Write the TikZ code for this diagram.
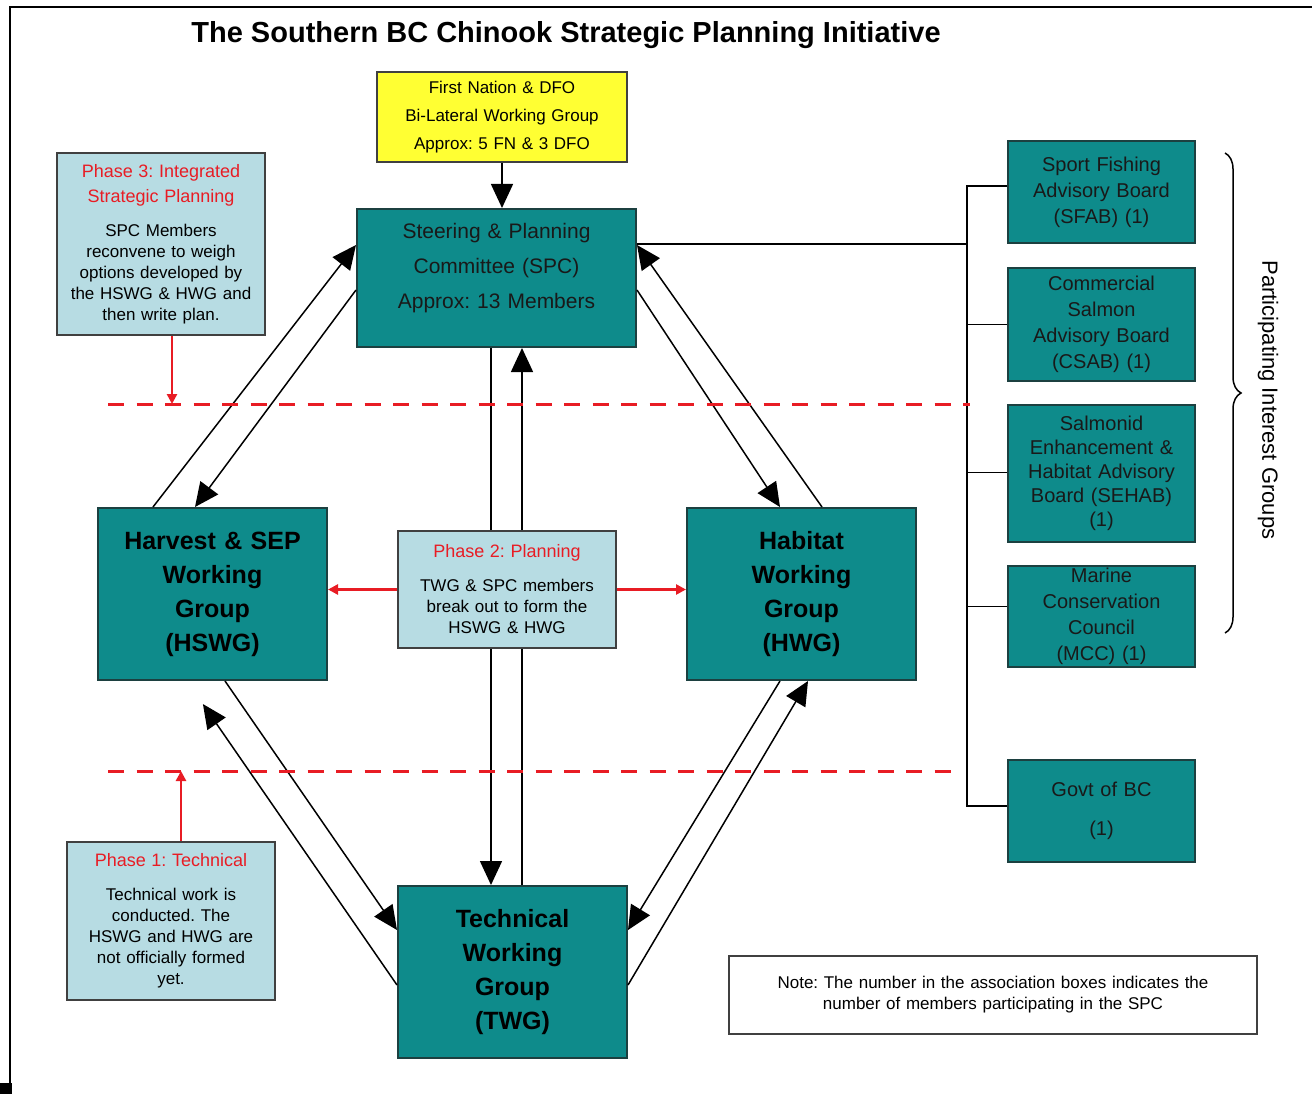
\documentclass[tikz,border=0pt]{standalone}
\usepackage{fontspec}
\setmainfont{Liberation Sans}
\usetikzlibrary{arrows.meta,decorations.pathreplacing}
\setlength{\parindent}{0pt}
\frenchspacing
\definecolor{groupteal}{RGB}{14,139,139}
\definecolor{groupedge}{RGB}{28,64,64}
\definecolor{phaseblue}{RGB}{183,220,227}
\definecolor{phasered}{RGB}{232,28,36}
\definecolor{bilatyellow}{RGB}{255,255,51}
\newcommand{\phasehead}[1]{{\color{phasered}\fontsize{18}{25}\selectfont #1\par}\vspace{13pt}}
\tikzset{
    group/.style={draw=groupedge,line width=2pt,fill=groupteal,align=center,inner sep=0pt,text=black!90},
    workgroup/.style={group,minimum width=229pt,minimum height=172pt,text width=220pt,text=black,font=\bfseries\fontsize{25}{34}\selectfont},
    member/.style={group,minimum width=187pt,text width=180pt,font=\fontsize{20}{26}\selectfont},
    phasebox/.style={draw=black!75,line width=2pt,fill=phaseblue,align=center,inner sep=0pt,font=\fontsize{17}{21}\selectfont},
    flow/.style={-{Triangle[length=24pt,width=22pt]},line width=1.5pt},
    phaseflow/.style={-{Triangle[length=10pt,width=10pt]},draw=phasered,line width=2.5pt},
    phaseline/.style={draw=phasered,line width=3pt,dash pattern=on 16pt off 12.5pt}
}
\begin{document}
\begin{tikzpicture}[x=1pt,y=-1pt]
    \useasboundingbox (0,0) rectangle (1312,1094);
    \draw[line width=2.5pt] (1312,7) -- (10,7) -- (10,1094);
    \fill (0,1083) rectangle (12,1094);
    \node[font=\bfseries\fontsize{29}{34}\selectfont] (title) at (566,35) {The Southern BC Chinook Strategic Planning Initiative};

    \node[draw=black!75,line width=2pt,fill=bilatyellow,minimum width=250pt,minimum height=90pt,text width=240pt,align=center,inner sep=0pt,font=\fontsize{17}{28}\selectfont] (fndfo) at (502,117) {First Nation \& DFO\\Bi-Lateral Working Group\\Approx: 5 FN \& 3 DFO};
    \node[group,minimum width=279pt,minimum height=138pt,text width=270pt,font=\fontsize{21}{35}\selectfont] (spc) at (496.5,278) {Steering \& Planning\\Committee (SPC)\\Approx: 13 Members\par\vspace{20pt}};
    \node[workgroup] (hswg) at (212.5,594) {Harvest \& SEP\\Working\\Group\\(HSWG)};
    \node[workgroup] (hwg) at (801.5,594) {Habitat\\Working\\Group\\(HWG)};
    \node[workgroup] (twg) at (512.5,972) {Technical\\Working\\Group\\(TWG)};

    \node[member,minimum height=102pt] (sfab) at (1101.5,192) {Sport Fishing\\Advisory Board\\(SFAB) (1)};
    \node[member,minimum height=113pt] (csab) at (1101.5,324.5) {Commercial\\Salmon\\Advisory Board\\(CSAB) (1)};
    \node[member,minimum height=137pt,font=\fontsize{20}{24}\selectfont] (sehab) at (1101.5,473.5) {Salmonid\\Enhancement \&\\Habitat Advisory\\Board (SEHAB)\\(1)};
    \node[member,minimum height=101pt] (mcc) at (1101.5,616.5) {Marine\\Conservation\\Council\\(MCC) (1)};
    \node[member,minimum height=102pt] (govt) at (1101.5,811) {Govt of BC\\[13pt](1)};

    \coordinate (trunk) at (967,244);
    \draw[line width=1.5pt] ([yshift=34pt]spc.east) -- (trunk);
    \draw[line width=1.5pt] ([yshift=6pt]sfab.west) -| ([yshift=5pt]govt.west -| trunk) -- ([yshift=5pt]govt.west);
    \foreach \board/\dy in {csab/0,sehab/1,mcc/10}
        \draw[line width=1.5pt] ([yshift=\dy pt]\board.west) -- ([yshift=\dy pt]\board.west -| trunk);

    \draw[flow] (fndfo.south) -- (fndfo.south |- spc.north);
    \draw[flow] ([xshift=-59.5pt]hswg.north) -- ([yshift=33pt]spc.west);
    \draw[flow] ([yshift=-12pt]spc.west) -- ([xshift=-17.5pt]hswg.north);
    \draw[flow] ([xshift=20.5pt]hwg.north) -- ([yshift=33pt]spc.east);
    \draw[flow] ([yshift=-12pt]spc.east) -- ([xshift=-21.5pt]hwg.north);
    \draw[flow] ([xshift=12.5pt]hswg.south) -- ([yshift=42pt]twg.west);
    \draw[flow,shorten >=28pt] ([yshift=-13pt]twg.west) -- ([xshift=-25.5pt]hswg.south);
    \draw[flow] ([xshift=-21.5pt]hwg.south) -- ([yshift=42pt]twg.east);
    \draw[flow] ([yshift=-13pt]twg.east) -- ([xshift=6.5pt]hwg.south);
    \draw[flow] ([xshift=-5.5pt]spc.south) -- ([xshift=-21.5pt]twg.north);
    \draw[flow] ([xshift=9.5pt]twg.north) -- ([xshift=25.5pt]spc.south);

    \coordinate (cut3west) at (108,404);
    \coordinate (cut3east) at (970,404);
    \coordinate (cut1west) at (108,771);
    \coordinate (cut1east) at (962,771);
    \draw[phaseline] (cut3west) -- (cut3east);
    \draw[phaseline] (cut1west) -- (cut1east);

    \node[phasebox,minimum width=208pt,minimum height=182pt,text width=200pt] (phase3) at (161,244) {\phasehead{Phase 3: Integrated\\Strategic Planning}SPC Members\\reconvene to weigh\\options developed by\\the HSWG \& HWG and\\then write plan.};
    \node[phasebox,minimum width=218pt,minimum height=117pt,text width=210pt] (phase2) at (507,589.5) {\phasehead{Phase 2: Planning}TWG \& SPC members\\break out to form the\\HSWG \& HWG};
    \node[phasebox,minimum width=208pt,minimum height=158pt,text width=200pt] (phase1) at (171,921) {\phasehead{Phase 1: Technical}Technical work is\\conducted. The\\HSWG and HWG are\\not officially formed\\yet.};

    \draw[phaseflow] ([xshift=11pt]phase3.south) -- ([xshift=11pt]phase3.south |- cut3west);
    \draw[phaseflow] ([xshift=10pt]phase1.north) -- ([xshift=10pt]phase1.north |- cut1west);
    \draw[phaseflow] (phase2.west) -- (phase2.west -| hswg.east);
    \draw[phaseflow] (phase2.east) -- (phase2.east -| hwg.west);

    \draw[line width=1.5pt,decorate,decoration={brace,amplitude=16pt}] (1225,153) -- (1225,633);
    \node[rotate=-90,font=\fontsize{22}{26}\selectfont] (groups) at (1268,400) {Participating Interest Groups};

    \node[draw=black!75,line width=2pt,minimum width=528pt,minimum height=78pt,text width=520pt,align=center,inner sep=0pt,font=\fontsize{17}{21}\selectfont] (note) at (993,995) {Note: The number in the association boxes indicates the\\number of members participating in the SPC};
\end{tikzpicture}
\end{document}
